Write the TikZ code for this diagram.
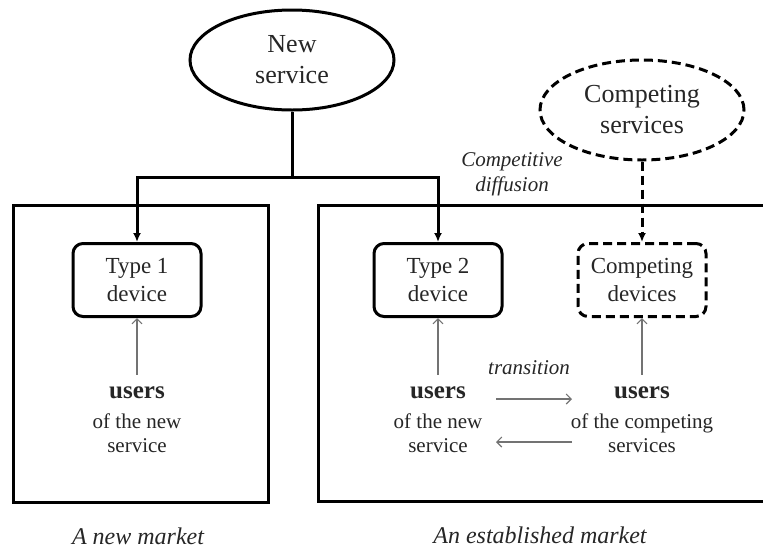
\documentclass[tikz,border=0pt]{standalone}
\usepackage{fontspec}
\setmainfont{Liberation Serif}
\usetikzlibrary{shapes.geometric,arrows.meta}

\begin{document}
\begin{tikzpicture}[x=1pt,y=-1pt,
  every node/.style={text=black!85},
  thickline/.style={line width=3pt},
  dashedline/.style={dash pattern=on 9pt off 5pt},
  service/.style={ellipse, draw, line width=3pt, minimum width=204pt,
    minimum height=100pt, inner sep=0pt, align=center,
    font=\fontsize{26}{31}\selectfont},
  device/.style={rectangle, rounded corners=10pt, draw, line width=3pt,
    minimum width=128pt, minimum height=73pt, inner sep=0pt, align=center,
    font=\fontsize{23}{28}\selectfont},
  feed/.style={line width=3pt, -{Latex[length=9pt,width=8pt]}},
  use/.style={draw=black!55, line width=1.1pt, -{Straight Barb[length=5pt,width=10pt]}},
  usersword/.style={font=\fontsize{25}{28}\selectfont\bfseries, inner xsep=2pt, inner ysep=12pt},
  usersnote/.style={align=center, font=\fontsize{21}{24}\selectfont},
  flowlabel/.style={align=center, font=\fontsize{21}{25}\selectfont\itshape},
  market/.style={font=\fontsize{24}{28}\selectfont\itshape, inner sep=1pt}]
\useasboundingbox (0,0) rectangle (763,550);

% services
\node[service] (ns) at (292,60) {New\\service};
\node[service, dashedline] (cs) at (642,110) {Competing\\services};

% market frames
\draw[thickline] (13,205) rectangle (268,502);
\draw[thickline] (763,205) -- (318,205) -- (318,501) -- (763,501);

% devices
\node[device] (t1) at (137,280) {Type 1\\device};
\node[device] (t2) at (438,280) {Type 2\\device};
\node[device, dashedline] (cd) at (642,280) {Competing\\devices};

% users
\node[usersword] (u1) at (137,393) {users};
\node[usersword] (u2) at (438,393) {users};
\node[usersword] (u3) at (642,393) {users};
\node[usersnote] (n1) at (137,433) {of the new\\service};
\node[usersnote] (n2) at (438,433) {of the new\\service};
\node[usersnote] (n3) at (642,433) {of the competing\\services};

% new service feeding both device types
\coordinate (split) at (292,177);
\draw[thickline] (ns.south) -- (split);
\draw[feed] (split) -| (t1.north);
\draw[feed] (split) -| (t2.north);

% competing services feeding competing devices
\draw[feed, dashedline] (cs.south) -- (cd.north);

% users of each device
\draw[use] (u1.north) -- (t1.south);
\draw[use] (u2.north) -- (t2.south);
\draw[use] (u3.north) -- (cd.south);

% transition between user groups
\coordinate (ra) at (496,399);
\coordinate (rb) at (572,399);
\coordinate (la) at (572,442);
\coordinate (lb) at (496,442);
\draw[use] (ra) -- (rb);
\draw[use] (la) -- (lb);

% labels
\node[flowlabel] (tr) at (529,368) {transition};
\node[flowlabel] (cdif) at (512,174) {Competitive\\diffusion};
\node[market] (m1) at (138,536) {A new market};
\node[market] (m2) at (540,535) {An established market};
\end{tikzpicture}
\end{document}
